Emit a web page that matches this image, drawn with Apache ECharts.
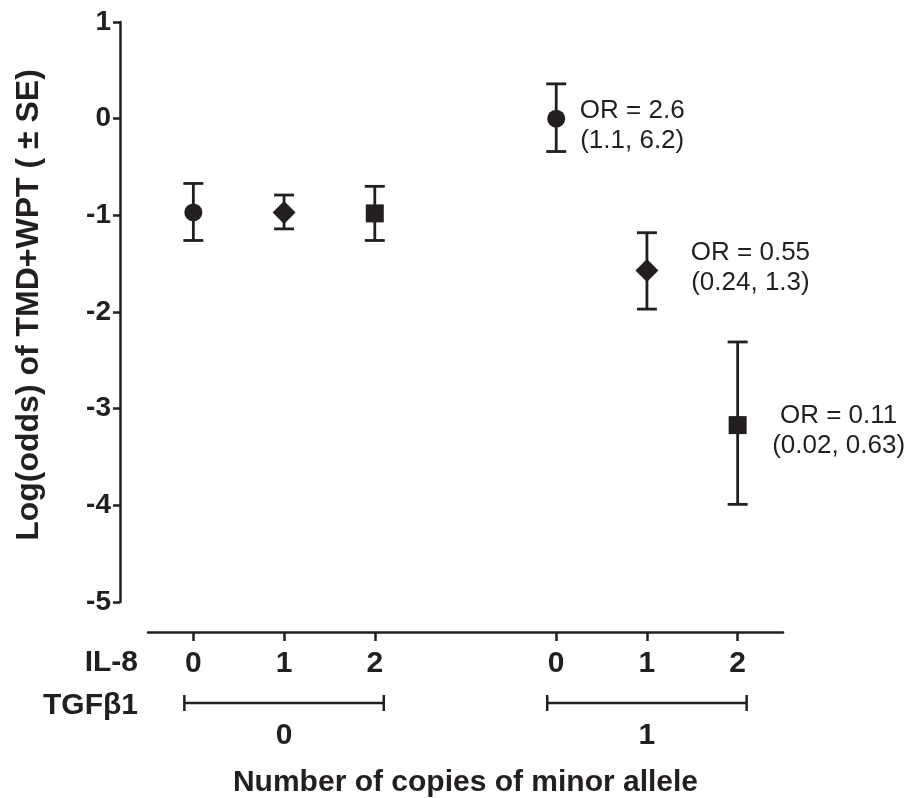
<!DOCTYPE html>
<html>
<head>
<meta charset="utf-8">
<script src="https://cdn.jsdelivr.net/npm/echarts@6/dist/echarts.min.js"></script>
<style>
  html, body { margin: 0; padding: 0; background: #fff; }
  #chart { width: 915px; height: 798px; }
</style>
</head>
<body>
<div id="chart"></div>
<script>
// genotype of each point (copies of minor allele)
const il8Copies = [0, 1, 2, 0, 1, 2];
const tgfCopies = [0, 0, 0, 1, 1, 1];
// log(odds) and +/- SE bounds
const logOdds = [-0.97, -0.97, -0.98, 0.0, -1.57, -3.17];
const seLow = [-1.26, -1.14, -1.26, -0.34, -1.97, -3.99];
const seHigh = [-0.67, -0.79, -0.70, 0.36, -1.18, -2.31];
const orLabels = ['', '', '', 'OR = 2.6\n(1.1, 6.2)', 'OR = 0.55\n(0.24, 1.3)', 'OR = 0.11\n(0.02, 0.63)'];
const tgfGroups = [0, 1];
const yTicks = [-5, -4, -3, -2, -1, 0, 1];

const INK = '#231f20';
const FONT = 'Arial, "Liberation Sans", Helvetica, sans-serif';
const GROUP_STEP = 4; // TGFb1 group offset on x
const shapes = ['circle', 'diamond', 'rect'];
const shapeSize = [18, 23, 18];
const labelOffsets = [null, null, null, [67, 7], [92, -3], [92, 6]];

const xPos = il8Copies.map((c, i) => tgfCopies[i] * GROUP_STEP + c);

const chart = echarts.init(document.getElementById('chart'), null, { renderer: 'canvas' });

const points = xPos.map((x, i) => {
  const item = {
    value: [x, logOdds[i]],
    symbol: shapes[il8Copies[i]],
    symbolSize: shapeSize[il8Copies[i]]
  };
  if (orLabels[i]) {
    item.label = {
      show: true,
      formatter: orLabels[i],
      position: 'right',
      distance: labelOffsets[i][0],
      offset: [0, labelOffsets[i][1]],
      align: 'center',
      verticalAlign: 'middle',
      fontSize: 26,
      lineHeight: 30,
      fontFamily: FONT,
      color: INK
    };
  }
  return item;
});

const option = {
  animation: false,
  backgroundColor: '#fff',
  textStyle: { fontFamily: FONT, color: INK },
  grid: { left: 148, right: 132, top: 22, bottom: 196, containLabel: false, outerBoundsMode: 'none' },
  xAxis: {
    type: 'value',
    min: -0.5,
    max: 6.5,
    offset: 30,
    splitLine: { show: false },
    axisLine: { show: true, onZero: false, lineStyle: { color: INK, width: 2.5 } },
    axisTick: {
      show: true,
      customValues: xPos,
      length: 9,
      lineStyle: { color: INK, width: 2.5 }
    },
    axisLabel: {
      customValues: xPos,
      formatter: v => String(il8Copies[xPos.indexOf(v)]),
      margin: 17,
      fontSize: 30,
      fontWeight: 'bold',
      fontFamily: FONT,
      color: INK
    },
    name: 'Number of copies of minor allele',
    nameLocation: 'middle',
    nameGap: 136,
    nameTextStyle: { fontSize: 30, fontWeight: 'bold', fontFamily: FONT, color: INK }
  },
  yAxis: {
    type: 'value',
    min: yTicks[0],
    max: yTicks[yTicks.length - 1],
    interval: 1,
    offset: 28,
    splitLine: { show: false },
    axisLine: { show: true, onZero: false, lineStyle: { color: INK, width: 2.5 } },
    axisTick: { show: true, length: 7, lineStyle: { color: INK, width: 2.5 } },
    axisLabel: {
      margin: 9,
      fontSize: 28,
      fontWeight: 'bold',
      fontFamily: FONT,
      color: INK
    },
    name: 'Log(odds) of TMD+WPT ( \u00b1 SE)',
    nameLocation: 'middle',
    nameGap: 75,
    nameTextStyle: {
      fontSize: 32, fontWeight: 'bold', fontFamily: FONT, color: INK,
      padding: [0, 0, 0, 14]
    }
  },
  graphic: [
    {
      type: 'text', right: 915 - 138, top: 648,
      style: { text: 'IL-8', font: 'bold 30px ' + FONT, fill: INK, textAlign: 'right' }
    },
    {
      type: 'text', right: 915 - 138, top: 691,
      style: { text: 'TGF\u03b21', font: 'bold 30px ' + FONT, fill: INK, textAlign: 'right' }
    }
  ],
  series: [
    {
      // error bars (± SE)
      type: 'custom',
      data: xPos.map((x, i) => [x, seLow[i], seHigh[i]]),
      renderItem: (params, api) => {
        const lo = api.coord([api.value(0), api.value(1)]);
        const hi = api.coord([api.value(0), api.value(2)]);
        const cap = 10;
        const style = { stroke: INK, lineWidth: 2.8 };
        return {
          type: 'group',
          children: [
            { type: 'line', shape: { x1: lo[0], y1: lo[1], x2: hi[0], y2: hi[1] }, style },
            { type: 'line', shape: { x1: lo[0] - cap, y1: lo[1], x2: lo[0] + cap, y2: lo[1] }, style },
            { type: 'line', shape: { x1: hi[0] - cap, y1: hi[1], x2: hi[0] + cap, y2: hi[1] }, style }
          ]
        };
      },
      z: 2
    },
    {
      type: 'scatter',
      data: points,
      itemStyle: { color: INK, opacity: 1 },
      z: 3
    },
    {
      // TGFb1 group brackets under the axis
      type: 'custom',
      clip: false,
      data: tgfGroups.map(g => {
        const xs = xPos.filter((x, i) => tgfCopies[i] === g);
        return [Math.min(...xs), Math.max(...xs), g];
      }),
      renderItem: (params, api) => {
        const a = api.coord([api.value(0), yTicks[0]]);
        const b = api.coord([api.value(1), yTicks[0]]);
        const pad = 9;
        const y = a[1] + 101;
        const x1 = a[0] - pad, x2 = b[0] + pad;
        const style = { stroke: INK, lineWidth: 2.5 };
        return {
          type: 'group',
          children: [
            { type: 'line', shape: { x1, y1: y, x2, y2: y }, style },
            { type: 'line', shape: { x1, y1: y - 8, x2: x1, y2: y + 8 }, style },
            { type: 'line', shape: { x1: x2, y1: y - 8, x2, y2: y + 8 }, style },
            {
              type: 'text',
              style: {
                text: String(api.value(2)),
                x: (x1 + x2) / 2, y: y + 33,
                align: 'center', verticalAlign: 'middle',
                font: 'bold 30px ' + FONT, fill: INK
              }
            }
          ]
        };
      },
      silent: true
    }
  ]
};

chart.setOption(option);
</script>
</body>
</html>
